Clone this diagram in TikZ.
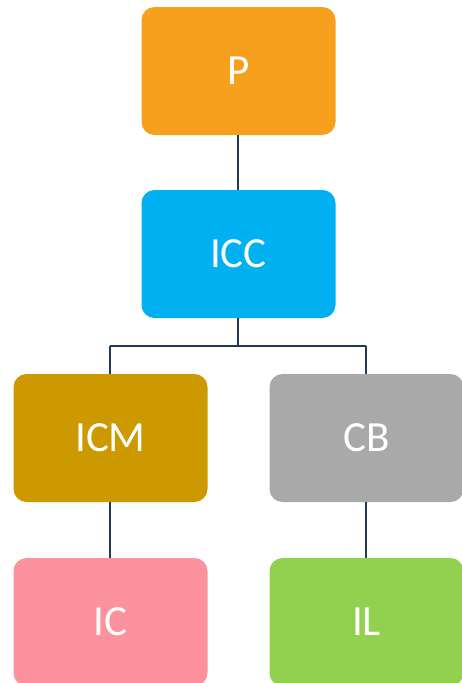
\documentclass[tikz,border=0pt]{standalone}
\usepackage{fontspec}
\setmainfont{Carlito}
\definecolor{cP}{HTML}{F6A01E}
\definecolor{cICC}{HTML}{00B0F0}
\definecolor{cICM}{HTML}{CC9900}
\definecolor{cCB}{HTML}{A9A9A9}
\definecolor{cIC}{HTML}{FC929E}
\definecolor{cIL}{HTML}{92D050}
\definecolor{cline}{HTML}{1F3A56}
\tikzset{
  box/.style={rectangle, rounded corners=13pt, minimum width=194pt, minimum height=128pt, inner sep=0pt, text=white, font=\fontsize{43pt}{50pt}\selectfont},
  link/.style={draw=cline, line width=2.2pt}
}
\begin{document}
\begin{tikzpicture}[x=1pt,y=-1pt]
\useasboundingbox (0,0) rectangle (462,683);
\clip (0,0) rectangle (462,683);
\node[box, fill=cP] (p) at (238.5,71) {P};
\node[box, fill=cICC] (icc) at (238.5,254) {ICC};
\node[box, fill=cICM] (icm) at (110.5,438) {ICM};
\node[box, fill=cCB] (cb) at (366.5,438) {CB};
\node[box, fill=cIC] (ic) at (110.5,622) {IC};
\node[box, fill=cIL] (il) at (366.5,622) {IL};
\coordinate (j) at (238,346);
\draw[link] (p.south -| 238,0) -- (icc.north -| 238,0);
\draw[link] (icc.south -| 238,0) -- (j);
\draw[link] (110,346) -- (366,346);
\draw[link] (icm.north -| 110,0) -- (110,346);
\draw[link] (cb.north -| 366,0) -- (366,346);
\draw[link] (icm.south -| 110,0) -- (ic.north -| 110,0);
\draw[link] (cb.south -| 366,0) -- (il.north -| 366,0);
\end{tikzpicture}
\end{document}
